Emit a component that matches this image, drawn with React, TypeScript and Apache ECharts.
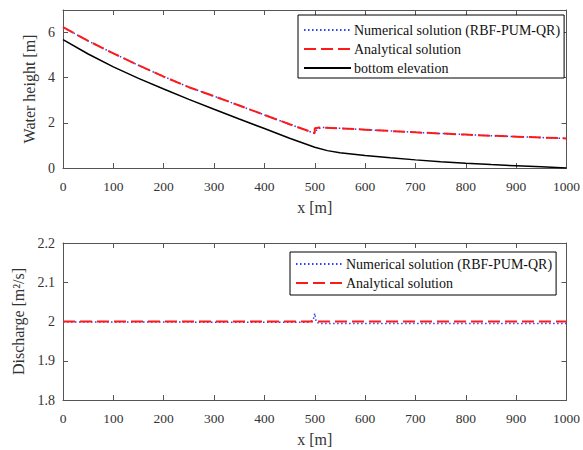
import React, { useEffect, useRef } from 'react';
import * as echarts from 'echarts';

// Top panel: water surface and bottom elevation
const xAnalytic = [0, 50, 100, 150, 200, 250, 300, 350, 400, 450, 500, 500, 510, 550, 600, 650, 700, 750, 800, 850, 900, 950, 1000];
const hAnalytic = [6.24, 5.63, 5.08, 4.55, 4.05, 3.58, 3.18, 2.77, 2.35, 1.94, 1.54, 1.76, 1.79, 1.76, 1.70, 1.64, 1.58, 1.53, 1.48, 1.43, 1.39, 1.35, 1.31];
const xNumeric = [0, 50, 100, 150, 200, 250, 300, 350, 400, 450, 495, 500, 505, 515, 550, 600, 650, 700, 750, 800, 850, 900, 950, 1000];
const hNumeric = [6.24, 5.63, 5.08, 4.55, 4.05, 3.58, 3.18, 2.77, 2.35, 1.94, 1.57, 1.55, 1.72, 1.80, 1.76, 1.70, 1.64, 1.58, 1.53, 1.48, 1.43, 1.39, 1.35, 1.31];
const xBottom = [0, 50, 100, 150, 200, 250, 300, 350, 400, 450, 500, 525, 550, 600, 650, 700, 750, 800, 850, 900, 950, 1000];
const zBottom = [5.69, 5.05, 4.48, 3.97, 3.50, 3.04, 2.60, 2.17, 1.75, 1.32, 0.92, 0.77, 0.68, 0.55, 0.45, 0.36, 0.28, 0.21, 0.15, 0.10, 0.05, 0.0];

// Bottom panel: discharge
const xQAnalytic = [0, 1000];
const qAnalytic = [2.0, 2.0];
const xQNumeric = [0, 100, 200, 300, 400, 490, 497, 500, 503, 510, 600, 700, 800, 900, 1000];
const qNumeric = [1.999, 1.999, 1.999, 1.998, 1.998, 1.998, 2.004, 2.021, 1.998, 1.995, 1.995, 1.995, 1.995, 1.995, 1.995];

const xTitle = 'x [m]';
const nameNum = 'Numerical solution (RBF-PUM-QR)';
const nameAna = 'Analytical solution';
const nameBed = 'bottom elevation';

const zip = (xs: number[], ys: number[]) => xs.map((x, i) => [x, ys[i]]);

const FONT = 'Liberation Serif';
const AX = '#555';
const fmt = (v: number) => String(Math.round(v * 1000) / 1000);

function xAxisCfg(grid: number, pos: 'bottom' | 'top') {
  const main = pos === 'bottom';
  return {
    type: 'value', gridIndex: grid, position: pos, min: 0, max: 1000, interval: 100,
    name: main ? xTitle : '', nameLocation: 'middle', nameGap: 31,
    nameTextStyle: { fontFamily: FONT, fontSize: 16, color: '#333' },
    axisLine: { show: true, onZero: false, lineStyle: { color: AX, width: 1 } },
    axisTick: { show: true, inside: true, length: 5, lineStyle: { color: AX } },
    axisLabel: { show: main, margin: 11, fontFamily: FONT, fontSize: 13.5, color: '#333', formatter: fmt },
    splitLine: { show: false },
  };
}

function yAxisCfg(grid: number, pos: 'left' | 'right', min: number, max: number, interval: number, name: string, gap: number, hideMax: boolean) {
  const main = pos === 'left';
  return {
    type: 'value', gridIndex: grid, position: pos, min, max, interval,
    name: main ? name : '', nameLocation: 'middle', nameGap: gap,
    nameTextStyle: { fontFamily: FONT, fontSize: 16, color: '#333' },
    axisLine: { show: true, onZero: false, lineStyle: { color: AX, width: 1 } },
    axisTick: { show: true, inside: true, length: 5, lineStyle: { color: AX } },
    axisLabel: { show: main, margin: 8, fontFamily: FONT, fontSize: 14, color: '#333', showMaxLabel: !hideMax, formatter: fmt },
    splitLine: { show: false },
  };
}

const numStyle = { color: '#2f3dff', width: 1.5, type: [1.5, 2.5] };
const anaStyle = { color: '#ff1a1a', width: 2, type: [12, 5] };
const bedStyle = { color: '#000', width: 1.5, type: 'solid' };

export default function App() {
  const ref = useRef<HTMLDivElement>(null);
  useEffect(() => {
    const chart = echarts.init(ref.current!, null, { renderer: 'svg' });
    const legendCommon = {
      orient: 'vertical', itemWidth: 47, itemHeight: 12,
      borderColor: '#000', borderWidth: 1, backgroundColor: '#fff', borderRadius: 0,
      itemStyle: { opacity: 0 },
      textStyle: { fontFamily: FONT, fontSize: 14, color: '#111', padding: [0, 0, 0, -2] },
      selectedMode: false,
    };
    chart.setOption({
      animation: false,
      backgroundColor: '#fff',
      grid: [
        { left: 63, top: 10, width: 504, height: 158 },
        { left: 63, top: 243, width: 504, height: 157 },
      ],
      xAxis: [xAxisCfg(0, 'bottom'), xAxisCfg(0, 'top'), xAxisCfg(1, 'bottom'), xAxisCfg(1, 'top')],
      yAxis: [
        yAxisCfg(0, 'left', 0, 7, 2, 'Water height [m]', 22, true),
        yAxisCfg(0, 'right', 0, 7, 2, '', 0, true),
        yAxisCfg(1, 'left', 1.8, 2.2, 0.1, 'Discharge [m²/s]', 32, false),
        yAxisCfg(1, 'right', 1.8, 2.2, 0.1, '', 0, false),
      ],
      legend: [
        { ...legendCommon, left: 298, top: 15, width: 264, padding: [8, 4, 3, 5], itemGap: 5, data: [nameNum, nameAna, nameBed] },
        { ...legendCommon, left: 290, top: 252, padding: [5, 4, 5, 5], itemGap: 5, data: [nameNum, nameAna] },
      ],
      series: [
        { name: nameNum, type: 'line', xAxisIndex: 0, yAxisIndex: 0, data: zip(xNumeric, hNumeric), symbol: 'none', lineStyle: numStyle, itemStyle: { color: numStyle.color } },
        { name: nameAna, type: 'line', xAxisIndex: 0, yAxisIndex: 0, data: zip(xAnalytic, hAnalytic), symbol: 'none', lineStyle: anaStyle, itemStyle: { color: anaStyle.color } },
        { name: nameBed, type: 'line', xAxisIndex: 0, yAxisIndex: 0, data: zip(xBottom, zBottom), symbol: 'none', lineStyle: bedStyle, itemStyle: { color: '#000' } },
        { name: nameNum, type: 'line', xAxisIndex: 2, yAxisIndex: 2, data: zip(xQNumeric, qNumeric), symbol: 'none', lineStyle: numStyle, itemStyle: { color: numStyle.color } },
        { name: nameAna, type: 'line', xAxisIndex: 2, yAxisIndex: 2, data: zip(xQAnalytic, qAnalytic), symbol: 'none', lineStyle: anaStyle, itemStyle: { color: anaStyle.color } },
      ],
    });
    return () => chart.dispose();
  }, []);
  return <div ref={ref} style={{ position: 'absolute', left: 0, top: 0, width: 583, height: 450, background: '#fff' }} />;
}
